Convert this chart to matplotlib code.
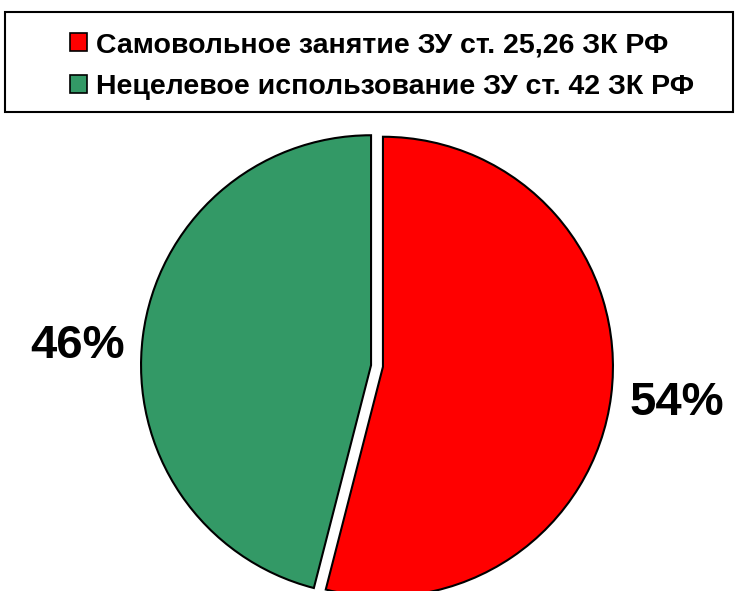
import matplotlib.pyplot as plt
from matplotlib.patches import Rectangle, Patch

# =========================
# Data
# =========================
labels = ["Самовольное занятие ЗУ ст. 25,26 ЗК РФ",
          "Нецелевое использование ЗУ ст. 42 ЗК РФ"]
shares = [54, 46]
colors = ["#FF0000", "#339966"]

W, H = 736, 591
font = ["Liberation Sans", "DejaVu Sans"]

fig = plt.figure(figsize=(W / 100, H / 100), dpi=100)
ax = fig.add_axes([0, 0, 1, 1])

# pie in pixel units: center (377, 366 from top), radius 230
cx, cy, r = 377, H - 366, 230
wedges, _ = ax.pie(shares, colors=colors, startangle=90, counterclock=False,
                   explode=[6, 6], center=(cx, cy), radius=r,
                   wedgeprops=dict(edgecolor="black", linewidth=1.5))
for w in wedges:
    w.set_clip_on(False)
ax.set_xlim(0, W)
ax.set_ylim(0, H)
ax.set_aspect("equal")
ax.axis("off")

# percentage labels
ax.text(677, H - 403, f"{shares[0]}%", fontsize=34, fontweight="bold",
        family=font, ha="center", va="center")
ax.text(78, H - 346, f"{shares[1]}%", fontsize=34, fontweight="bold",
        family=font, ha="center", va="center")

# legend box
fig.patches.append(Rectangle((5 / W, 1 - 112 / H), 728 / W, 100 / H,
                             transform=fig.transFigure, fill=False,
                             edgecolor="black", linewidth=1.5))
handles = [Patch(facecolor=c, edgecolor="black", linewidth=1.2) for c in colors]
fig.legend(handles, labels, loc="center", bbox_to_anchor=(382 / W, 1 - 66 / H),
           frameon=False, handlelength=0.62, handleheight=0.62, handletextpad=0.3,
           labelspacing=0.55, prop=dict(family=font, weight="bold", size=20.5))

fig.savefig("out.png", dpi=100)
